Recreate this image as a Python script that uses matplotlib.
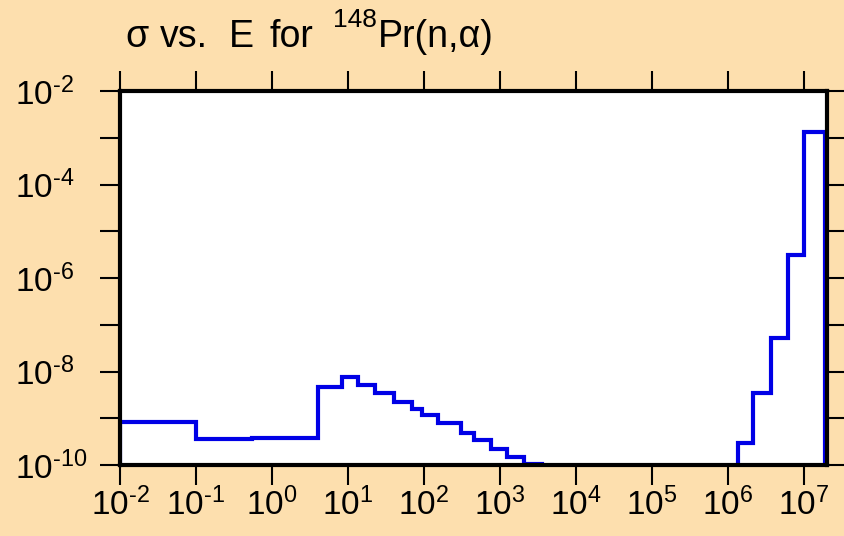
import math

import matplotlib
matplotlib.use("Agg")
import matplotlib.pyplot as plt
from matplotlib.ticker import FixedLocator, FuncFormatter, NullLocator

plt.rcParams["font.family"] = ["Liberation Sans", "DejaVu Sans"]
plt.rcParams["mathtext.fontset"] = "custom"
plt.rcParams["mathtext.rm"] = "Liberation Sans"
plt.rcParams["mathtext.it"] = "Liberation Sans:italic"
plt.rcParams["mathtext.bf"] = "Liberation Sans:bold"

# bin edges (energy, eV) and cross sections (b)
energy_edges = [1e-2, 0.1, 0.54, 4.0, 8.3, 13.7, 22.6, 40, 69, 93, 152, 307,
                455, 753, 1224, 2070, 3550, 1.34e6, 2.15e6, 3.68e6, 6.1e6,
                1.0e7, 1.89e7]
sigma = [8.3e-10, 3.6e-10, 3.7e-10, 4.7e-9, 7.8e-9, 5.1e-9, 3.4e-9, 2.25e-9,
         1.6e-9, 1.2e-9, 7.8e-10, 4.9e-10, 3.4e-10, 2.2e-10, 1.5e-10, 1.03e-10,
         1e-12, 2.9e-10, 3.4e-9, 5.1e-8, 3.1e-6, 1.3e-3]

x_decades = list(range(-2, 8))
y_decades = list(range(-10, -1))

# title pieces: (text, left x in px, superscript?)
title_parts = [("σ", 125, False), ("vs.", 160, False), ("E", 229, False),
               ("for", 270, False), ("148", 333, True), ("Pr(n,α)", 378, False)]

BG = "#FDDFAE"
W, H = 845, 536

fig = plt.figure(figsize=(W / 100, H / 100), dpi=100, facecolor=BG)
ax = fig.add_axes([120 / W, 1 - 465 / H, 707 / W, 374 / H])
ax.set_facecolor("white")

ax.stairs(sigma, energy_edges, baseline=1e-14, color="#0000E6", linewidth=3.0)

ax.set_xscale("log")
ax.set_yscale("log")
ax.set_xlim(1e-2, 2.0e7)
ax.set_ylim(1e-10, 1e-2)

ax.xaxis.set_major_locator(FixedLocator([10.0 ** d for d in x_decades]))
ax.xaxis.set_minor_locator(NullLocator())
ax.yaxis.set_major_locator(FixedLocator([10.0 ** d for d in y_decades]))
ax.yaxis.set_minor_locator(NullLocator())


def exp_label(v, pos, even_only=False):
    e = int(round(math.log10(v)))
    if even_only and e % 2:
        return ""
    if e < 0:
        return r"$10^{\text{-}%d}$" % (-e)
    return r"$10^{%d}$" % e


ax.xaxis.set_major_formatter(FuncFormatter(exp_label))
ax.yaxis.set_major_formatter(FuncFormatter(lambda v, p: exp_label(v, p, True)))

ax.tick_params(axis="both", which="major", direction="out", length=14.5,
               width=1.5, labelsize=24, color="black", top=True, right=True)
ax.tick_params(axis="x", pad=1.5)
ax.tick_params(axis="y", pad=61)
plt.setp(ax.get_yticklabels(), ha="left")

for s in ax.spines.values():
    s.set_linewidth(3)
    s.set_color("black")

for txt, px, sup in title_parts:
    if sup:
        fig.text(px / W, 1 - 27 / H, txt, fontsize=19, ha="left", va="baseline")
    else:
        fig.text(px / W, 1 - 47 / H, txt, fontsize=27, ha="left", va="baseline")

fig.savefig("out.png", dpi=100, facecolor=BG)
